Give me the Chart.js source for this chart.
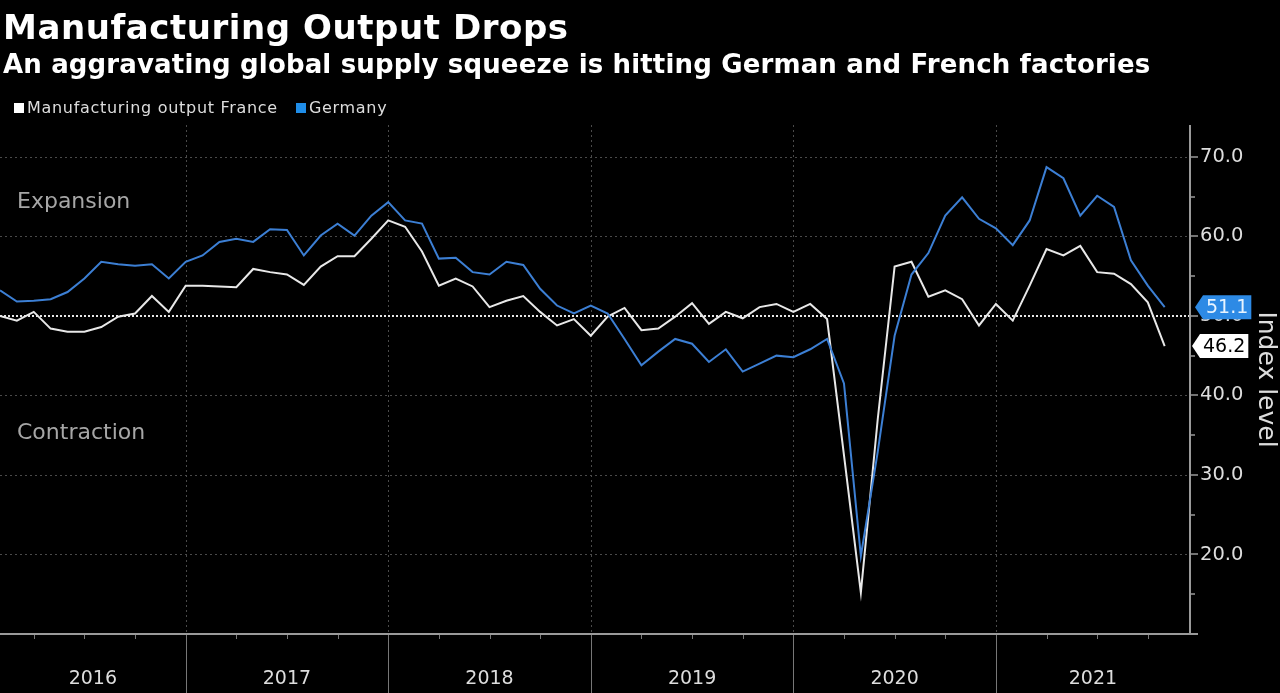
<!DOCTYPE html>
<html>
<head>
<meta charset="utf-8">
<script src="https://cdn.jsdelivr.net/npm/chart.js@4.4.0/dist/chart.umd.min.js"></script>
<style>
  html, body { margin: 0; padding: 0; background: #000; }
  #wrap { position: relative; width: 1280px; height: 693px; overflow: hidden; background: #000; }
  #chart { position: absolute; left: 0; top: 0; }
  .title { position: absolute; left: 3px; top: 10px; color: #fff; font: bold 34px/34px "DejaVu Sans"; letter-spacing: 0.55px; white-space: nowrap; }
  .subtitle { position: absolute; left: 3px; top: 51px; color: #fff; font: bold 26px/26px "DejaVu Sans"; letter-spacing: 0.15px; white-space: nowrap; }
  #legend { position: absolute; left: 14px; top: 99px; color: #ddd; font: 16px/18px "DejaVu Sans"; letter-spacing: 0.7px; white-space: nowrap; display: flex; align-items: center; }
  #legend .sq { display: inline-block; width: 10px; height: 10px; margin-right: 3px; }
  #legend .item { display: flex; align-items: center; margin-right: 18px; }
</style>
</head>
<body>
<div id="wrap">
  <canvas id="chart" width="1280" height="693"></canvas>
  <div class="title">Manufacturing Output Drops</div>
  <div class="subtitle">An aggravating global supply squeeze is hitting German and French factories</div>
  <div id="legend"></div>
</div>
<script>
// monthly index readings, Jan 2016 .. Oct 2021
var years = ['2016', '2017', '2018', '2019', '2020', '2021'];
var seriesNames = ['Manufacturing output France', 'Germany'];
var seriesColors = ['#e8e8e8', '#3c7fd4'];
var legendColors = ['#ffffff', '#1f8de8'];

var france = [
  50.0, 49.4, 50.5, 48.4, 48.0, 48.0, 48.6, 49.9, 50.3, 52.5, 50.5, 53.8,
  53.8, 53.7, 53.6, 55.9, 55.5, 55.2, 53.9, 56.2, 57.5, 57.5, 59.7, 62.0,
  61.2, 58.1, 53.8, 54.7, 53.7, 51.1, 51.9, 52.5, 50.5, 48.8, 49.6, 47.5,
  49.9, 51.0, 48.2, 48.4, 49.9, 51.6, 49.0, 50.5, 49.7, 51.1, 51.5, 50.5,
  51.5, 49.6, 32.5, 15.2, 37.0, 56.2, 56.8, 52.4, 53.2, 52.1, 48.8, 51.5,
  49.4, 53.8, 58.4, 57.6, 58.8, 55.5, 55.3, 54.0, 51.7, 46.2
];
var germany = [
  53.2, 51.8, 51.9, 52.1, 53.0, 54.7, 56.8, 56.5, 56.3, 56.5, 54.7, 56.8,
  57.6, 59.3, 59.7, 59.3, 60.9, 60.8, 57.6, 60.1, 61.6, 60.1, 62.6, 64.3,
  62.0, 61.6, 57.2, 57.3, 55.5, 55.2, 56.8, 56.4, 53.4, 51.3, 50.3, 51.3,
  50.3, 47.1, 43.8, 45.5, 47.1, 46.5, 44.2, 45.8, 43.0, 44.0, 45.0, 44.8,
  45.8, 47.1, 41.5, 19.8, 32.9, 47.5, 55.2, 57.9, 62.6, 64.9, 62.2, 61.0,
  58.9, 62.0, 68.7, 67.3, 62.6, 65.1, 63.7, 57.0, 53.8, 51.1
];
var yTicks = [20, 30, 40, 50, 60, 70];
var yMinor = [15, 25, 35, 45, 55, 65];
var zoneLabels = [{ text: 'Expansion', value: 64.3 }, { text: 'Contraction', value: 35.3 }];

var X_MIN = 1, X_MAX = 71.5;

// x = months counted from the start of 2016, point sits at month end
function toPoints(arr) {
  return arr.map(function(v, i) { return { x: i + 1, y: v }; });
}

// legend
var leg = document.getElementById('legend');
seriesNames.forEach(function(n, i) {
  var it = document.createElement('span');
  it.className = 'item';
  it.innerHTML = '<span class="sq" style="background:' + legendColors[i] + '"></span>' + n;
  leg.appendChild(it);
});

var decor = {
  id: 'decor',
  beforeDatasetsDraw: function(chart) {
    var ctx = chart.ctx, a = chart.chartArea, xs = chart.scales.x, ys = chart.scales.y;
    ctx.save();
    ctx.lineWidth = 1;
    ctx.strokeStyle = '#4a4a4a';
    ctx.setLineDash([2, 3]);
    yTicks.forEach(function(v) {
      if (v === 50) return;
      var y = Math.round(ys.getPixelForValue(v)) + 0.5;
      ctx.beginPath(); ctx.moveTo(a.left, y); ctx.lineTo(a.right, y); ctx.stroke();
    });
    for (var j = 1; j < years.length; j++) {
      var x = Math.round(xs.getPixelForValue(12 * j)) + 0.5;
      ctx.beginPath(); ctx.moveTo(x, a.top); ctx.lineTo(x, a.bottom); ctx.stroke();
    }
    // 50 line
    ctx.strokeStyle = '#e6e6e6';
    ctx.lineWidth = 2;
    ctx.setLineDash([2, 2]);
    var y50 = Math.round(ys.getPixelForValue(50));
    ctx.beginPath(); ctx.moveTo(a.left, y50); ctx.lineTo(a.right, y50); ctx.stroke();
    ctx.restore();
  },
  afterDraw: function(chart) {
    var ctx = chart.ctx, a = chart.chartArea, xs = chart.scales.x, ys = chart.scales.y;
    ctx.save();
    ctx.setLineDash([]);
    // year boundary ticks below the axis
    ctx.strokeStyle = '#777';
    ctx.lineWidth = 1;
    for (var j = 1; j < years.length; j++) {
      var x = Math.round(xs.getPixelForValue(12 * j)) + 0.5;
      ctx.beginPath(); ctx.moveTo(x, a.bottom); ctx.lineTo(x, chart.height); ctx.stroke();
    }
    // quarter ticks
    for (var m = 0; m <= 72; m += 3) {
      if (m % 12 === 0 || m < X_MIN || m > X_MAX) continue;
      var qx = Math.round(xs.getPixelForValue(m)) + 0.5;
      ctx.beginPath(); ctx.moveTo(qx, a.bottom); ctx.lineTo(qx, a.bottom + 5); ctx.stroke();
    }
    // axis lines
    ctx.strokeStyle = '#9a9a9a';
    ctx.lineWidth = 2;
    ctx.beginPath(); ctx.moveTo(a.left, a.bottom); ctx.lineTo(a.right + 8, a.bottom); ctx.stroke();
    ctx.beginPath(); ctx.moveTo(a.right, a.top); ctx.lineTo(a.right, a.bottom); ctx.stroke();
    ctx.lineWidth = 1.5;
    yTicks.forEach(function(v) {
      var y = Math.round(ys.getPixelForValue(v));
      ctx.beginPath(); ctx.moveTo(a.right, y); ctx.lineTo(a.right + 8, y); ctx.stroke();
    });
    yMinor.forEach(function(v) {
      var y = Math.round(ys.getPixelForValue(v));
      ctx.beginPath(); ctx.moveTo(a.right, y); ctx.lineTo(a.right + 5, y); ctx.stroke();
    });
    // zone labels
    ctx.fillStyle = '#a6a6a6';
    ctx.font = '22px "DejaVu Sans"';
    ctx.textBaseline = 'middle';
    ctx.textAlign = 'left';
    zoneLabels.forEach(function(z) {
      ctx.fillText(z.text, a.left + 17, ys.getPixelForValue(z.value));
    });
    // last value tags
    var tags = [
      { v: france[france.length - 1], fill: '#ffffff', text: '#000000', tip: a.right + 2 },
      { v: germany[germany.length - 1], fill: '#2d8ae5', text: '#e8f4ff', tip: a.right + 5 }
    ];
    ctx.font = '19px "DejaVu Sans"';
    tags.forEach(function(t) {
      var y = ys.getPixelForValue(t.v);
      var label = t.v.toFixed(1);
      var w = ctx.measureText(label).width + 6;
      var h = 24, bx = t.tip + 8;
      ctx.fillStyle = t.fill;
      ctx.beginPath();
      ctx.moveTo(t.tip, y);
      ctx.lineTo(bx, y - h / 2);
      ctx.lineTo(bx + w, y - h / 2);
      ctx.lineTo(bx + w, y + h / 2);
      ctx.lineTo(bx, y + h / 2);
      ctx.closePath();
      ctx.fill();
      ctx.fillStyle = t.text;
      ctx.textAlign = 'left';
      ctx.fillText(label, bx + 3, y + 1);
    });
    ctx.restore();
  }
};

new Chart(document.getElementById('chart'), {
  type: 'line',
  data: {
    datasets: [
      { label: seriesNames[1], data: toPoints(germany), borderColor: seriesColors[1], borderWidth: 2, pointRadius: 0, tension: 0 },
      { label: seriesNames[0], data: toPoints(france), borderColor: seriesColors[0], borderWidth: 2, pointRadius: 0, tension: 0 }
    ]
  },
  options: {
    responsive: false,
    animation: false,
    devicePixelRatio: 1,
    layout: { padding: { top: 125, left: 0, right: 0, bottom: 0 } },
    plugins: { legend: { display: false }, tooltip: { enabled: false } },
    scales: {
      x: {
        type: 'linear',
        min: X_MIN,
        max: X_MAX,
        afterFit: function(s) { s.height = 59; },
        afterBuildTicks: function(s) {
          s.ticks = years.map(function(y, j) {
            return { value: (Math.max(12 * j, X_MIN) + Math.min(12 * j + 12, X_MAX)) / 2 };
          });
        },
        ticks: {
          autoSkip: false, maxRotation: 0, color: '#dddddd', padding: 34,
          font: { family: 'DejaVu Sans', size: 19 },
          callback: function(v, i) { return years[i]; }
        },
        grid: { display: false, drawTicks: false },
        border: { display: false }
      },
      y: {
        position: 'right',
        min: 10,
        max: 74,
        afterFit: function(s) { s.width = 90; },
        afterBuildTicks: function(s) {
          s.ticks = yTicks.map(function(v) { return { value: v }; });
        },
        ticks: {
          color: '#dddddd', padding: 10,
          font: { family: 'DejaVu Sans', size: 19.5 },
          callback: function(v) { return v.toFixed(1); }
        },
        grid: { display: false, drawTicks: false },
        border: { display: false },
        title: {
          display: true, text: 'Index level', color: '#dddddd',
          font: { family: 'DejaVu Sans', size: 25 },
          padding: { top: 0, bottom: 0 }
        }
      }
    }
  },
  plugins: [decor]
});
</script>
</body>
</html>
